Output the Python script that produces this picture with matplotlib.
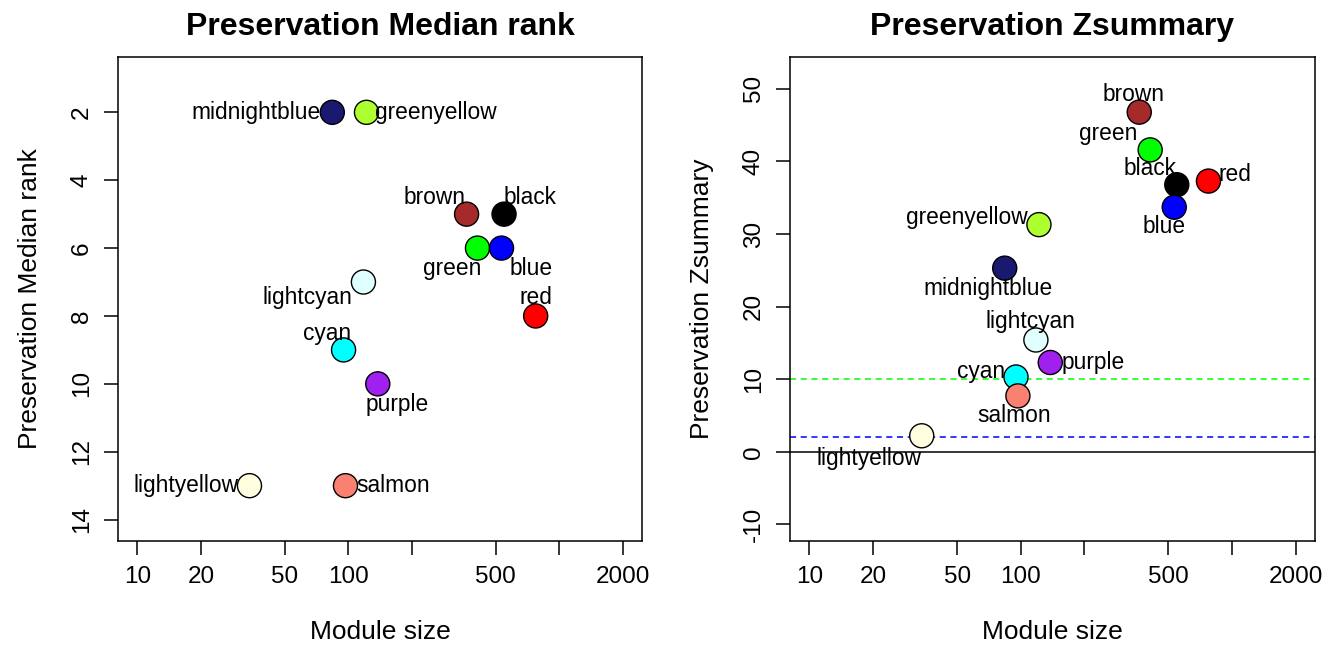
import numpy as np
import matplotlib
matplotlib.use("Agg")
import matplotlib.pyplot as plt

plt.rcParams['font.family'] = ['Liberation Sans', 'DejaVu Sans']

# module data
modules = ['midnightblue', 'greenyellow', 'brown', 'black', 'green', 'blue',
           'lightcyan', 'red', 'cyan', 'purple', 'lightyellow', 'salmon']
module_size = [84, 122, 364, 548, 410, 533, 118, 774, 95, 138, 34, 97]
median_rank = [2, 2, 5, 5, 6, 6, 7, 8, 9, 10, 13, 13]
zsummary = [25.3, 31.3, 46.8, 36.8, 41.6, 33.7, 15.4, 37.3, 10.3, 12.3, 2.2, 7.7]

fill = {'midnightblue': '#191970', 'greenyellow': '#ADFF2F', 'brown': '#A52A2A',
        'black': '#000000', 'green': '#00FF00', 'blue': '#0000FF',
        'lightcyan': '#E0FFFF', 'red': '#FF0000', 'cyan': '#00FFFF',
        'purple': '#A020F0', 'lightyellow': '#FFFFE0', 'salmon': '#FA8072'}

# label placement (offset in points, horizontal alignment)
offs_rank = {'midnightblue': (-8, 0, 'right'), 'greenyellow': (6, 0, 'left'),
             'brown': (-23, 12, 'center'), 'black': (19, 12, 'center'),
             'green': (-18, -15, 'center'), 'blue': (21, -15, 'center'),
             'lightcyan': (-8, -11, 'right'), 'red': (0, 13, 'center'),
             'cyan': (-12, 12, 'center'), 'purple': (14, -15, 'center'),
             'lightyellow': (-8, 0, 'right'), 'salmon': (8, 0, 'left')}
offs_z = {'midnightblue': (-12, -15, 'center'), 'greenyellow': (-8, 5, 'right'),
          'brown': (-4, 13, 'center'), 'black': (-19, 12, 'center'),
          'green': (-30, 12, 'center'), 'blue': (-7, -14, 'center'),
          'lightcyan': (-4, 13, 'center'), 'red': (7, 5, 'left'),
          'cyan': (-8, 4, 'right'), 'purple': (8, 0, 'left'),
          'salmon': (-3, -14, 'center'), 'lightyellow': (-38, -16, 'center')}

xticks = [10, 20, 50, 100, 200, 500, 1000, 2000]
xticklabels = ['10', '20', '50', '100', '', '500', '', '2000']

fig = plt.figure(figsize=(13.4, 6.51), dpi=100)
ax1 = fig.add_axes([118 / 1340, 110 / 651, 524 / 1340, 484 / 651])
ax2 = fig.add_axes([790 / 1340, 110 / 651, 525 / 1340, 484 / 651])


def setup(ax, title, ylabel, yticks):
    ax.set_xscale('log')
    ax.set_xlim(10 ** 0.908, 10 ** 3.393)
    ax.set_xticks(xticks)
    ax.set_xticklabels(xticklabels)
    ax.minorticks_off()
    ax.set_yticks(yticks)
    ax.set_yticklabels([str(t) for t in yticks], rotation=90, va='center')
    ax.tick_params(labelsize=17.5, length=10, width=1.1, pad=8)
    for s in ax.spines.values():
        s.set_linewidth(1.1)
    ax.set_title(title, fontsize=23, fontweight='bold', pad=16)
    ax.set_xlabel('Module size', fontsize=19, labelpad=23)
    ax.set_ylabel(ylabel, fontsize=19, labelpad=21)


def draw(ax, yvals, offs):
    ax.scatter(module_size, yvals, s=300, c=[fill[m] for m in modules],
               edgecolors='black', linewidths=1.0, zorder=3)
    for m, x, y in zip(modules, module_size, yvals):
        dx, dy, ha = offs[m]
        ax.annotate(m, (x, y), xytext=(dx, dy), textcoords='offset points',
                    ha=ha, va='center', fontsize=16.4, zorder=4)


setup(ax1, 'Preservation Median rank', 'Preservation Median rank', [2, 4, 6, 8, 10, 12, 14])
ax1.set_ylim(14.63, 0.37)
draw(ax1, median_rank, offs_rank)

setup(ax2, 'Preservation Zsummary', 'Preservation Zsummary', [-10, 0, 10, 20, 30, 40, 50])
ax2.set_ylim(-12.3, 54.4)
ax2.axhline(0, color='black', lw=1.1, zorder=1)
ax2.axhline(2, color='#0000FF', lw=1.1, ls=(0, (4, 3)), zorder=1)
ax2.axhline(10, color='#00FF00', lw=1.1, ls=(0, (4, 3)), zorder=1)
draw(ax2, zsummary, offs_z)

fig.savefig('out.png', dpi=100)
